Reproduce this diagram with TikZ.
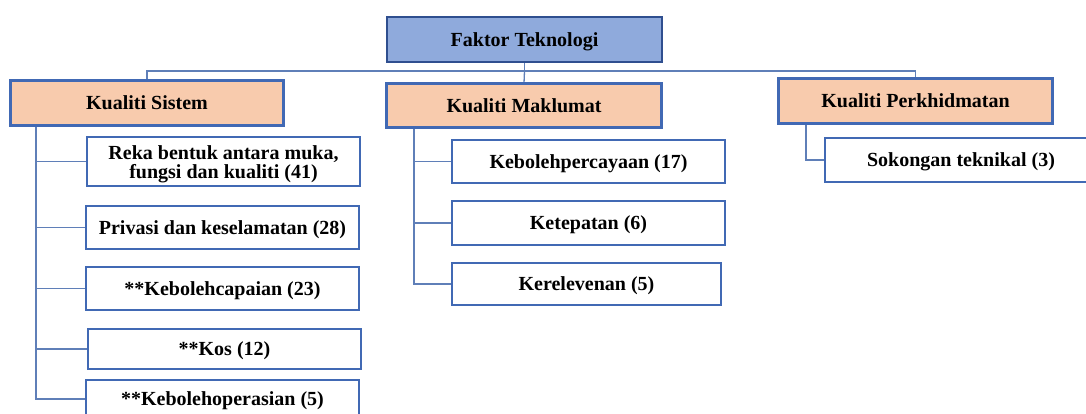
\documentclass[tikz,border=0pt]{standalone}
\usepackage{fontspec}
\setmainfont{Liberation Serif}
\definecolor{topfill}{HTML}{8FAADC}
\definecolor{topline}{HTML}{2F4F8F}
\definecolor{catfill}{HTML}{F8CBAD}
\definecolor{boxline}{HTML}{4169B4}
\definecolor{linkline}{HTML}{5F7FB8}
\tikzset{
  every node/.style={font=\fontsize{20}{19}\selectfont\bfseries, inner sep=0pt, align=center},
  basebox/.style={draw=boxline, line width=2pt, fill=white, text height=13.5pt, text depth=0pt},
  topbox/.style={basebox, draw=topline, fill=topfill},
  catbox/.style={basebox, fill=catfill},
  leafbox/.style={basebox},
  link/.style={draw=linkline, line width=1.3pt},
}
\begin{document}
\begin{tikzpicture}[x=1pt, y=-1pt]
\useasboundingbox (0,0) rectangle (1086,414);

% horizontal bus joining the root to the three categories
\coordinate (bus) at (524.5,71);
\draw[link] (147,71) -- (915.5,71);

\node[topbox, minimum width=275, minimum height=45] (ft) at (524.5,39.5) {Faktor Teknologi};
\node[catbox, minimum width=272, minimum height=44] (ks) at (147,103) {Kualiti Sistem};
\node[catbox, minimum width=274, minimum height=43] (km) at (524,105.5) {Kualiti Maklumat};
\node[catbox, minimum width=273, minimum height=44] (kp) at (915.5,101) {Kualiti Perkhidmatan};

\draw[link] (ft.south) -- (bus);
\draw[link] (ks.north) |- (bus);
\draw[link] (km.north) -- (bus);
\draw[link] (kp.north) |- (bus);

% system quality leaves (the two-line label is set as its own node inside the box)
\node[leafbox, minimum width=273, minimum height=49] (s1) at (223.5,161.5) {};
\node[yshift=-2.5pt] (s1t) at (s1.center) {Reka bentuk antara muka,\\fungsi dan kualiti (41)};
\node[leafbox, minimum width=273, minimum height=43] (s2) at (222.5,227.5) {Privasi dan keselamatan (28)};
\node[leafbox, minimum width=273, minimum height=43] (s3) at (222.5,288.5) {**Kebolehcapaian (23)};
\node[leafbox, minimum width=273, minimum height=40] (s4) at (224.5,349) {**Kos (12)};
\node[leafbox, minimum width=273, minimum height=38] (s5) at (222.5,399) {**Kebolehoperasian (5)};

% information quality leaves
\node[leafbox, minimum width=273, minimum height=43] (m1) at (588.5,161.5) {Kebolehpercayaan (17)};
\node[leafbox, minimum width=273, minimum height=44] (m2) at (588.5,223) {Ketepatan (6)};
\node[leafbox, minimum width=269, minimum height=42] (m3) at (586.5,284) {Kerelevenan (5)};

% service quality leaf
\node[leafbox, minimum width=272, minimum height=44] (p1) at (961,160) {Sokongan teknikal (3)};

% branch connectors
\coordinate (ksx) at ([xshift=26pt]ks.south west);
\coordinate (kmx) at ([xshift=28pt]km.south west);
\coordinate (kpx) at ([xshift=28pt]kp.south west);
\foreach \c in {s1,s2,s3,s4,s5} \draw[link] (ksx) |- (\c.west);
\foreach \c in {m1,m2,m3} \draw[link] (kmx) |- (\c.west);
\draw[link] (kpx) |- (p1.west);

% category borders drawn again over the connector ends
\foreach \c in {ks,km,kp} \draw[draw=boxline, line width=2pt] (\c.south west) rectangle (\c.north east);
\end{tikzpicture}
\end{document}
